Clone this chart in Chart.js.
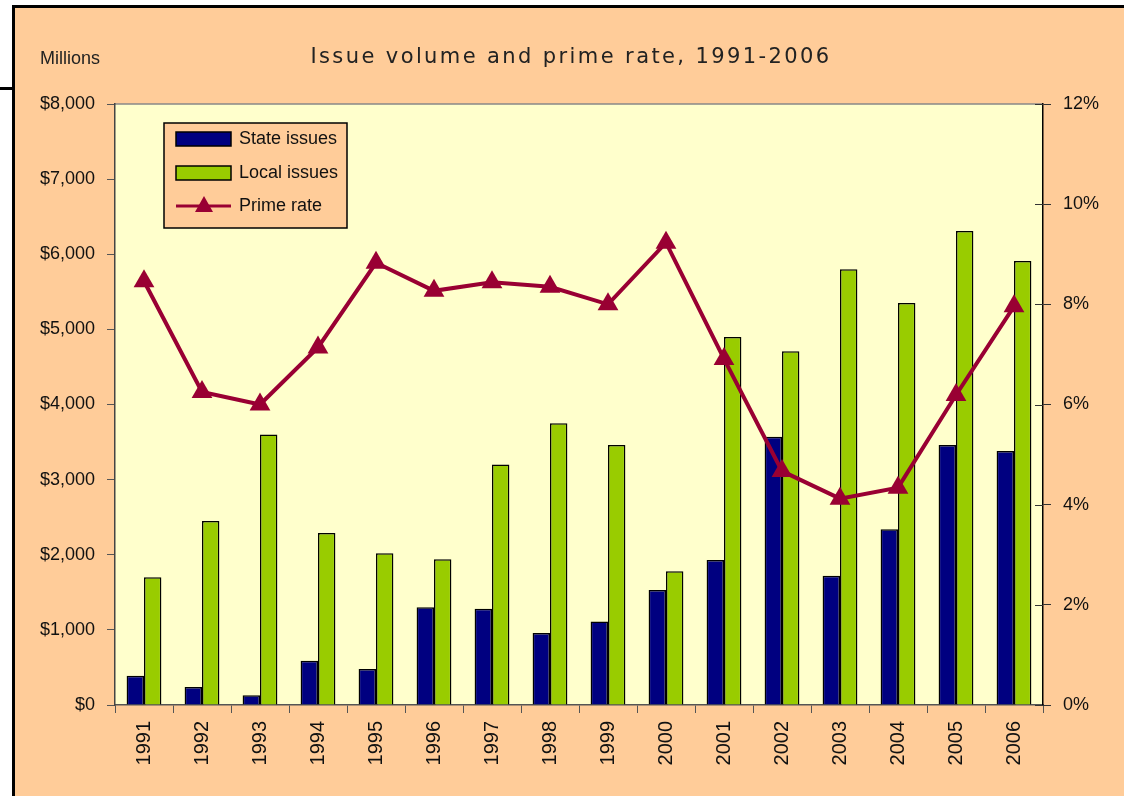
<!DOCTYPE html>
<html>
<head>
<meta charset="utf-8">
<script src="https://cdn.jsdelivr.net/npm/chart.js@4"></script>
<style>
  body { margin: 0; background: #fff; }
  canvas { display: block; }
</style>
</head>
<body>
<canvas id="issues" width="1124" height="796"></canvas>
<script>
// Issue volume and prime rate

const years = ['1991', '1992', '1993', '1994', '1995', '1996', '1997', '1998',
    '1999', '2000', '2001', '2002', '2003', '2004', '2005', '2006'];
const stateIssues = [390, 240, 130, 590, 480, 1300, 1280, 960,
    1110, 1530, 1930, 3570, 1720, 2340, 3460, 3380];
const localIssues = [1700, 2450, 3600, 2290, 2020, 1940, 3200, 3750,
    3460, 1780, 4900, 4710, 5800, 5350, 6310, 5910];
const primeRate = [8.46, 6.25, 6.00, 7.14, 8.83, 8.27, 8.44, 8.35,
    8.00, 9.23, 6.91, 4.67, 4.12, 4.34, 6.19, 7.96];

const narrow = "'Liberation Sans Narrow', 'Liberation Sans', Arial, sans-serif";

// background, frame, plot area and the title texts
const frame = {
    id: 'frame',
    beforeDraw(chart) {
        const ctx = chart.ctx;
        const a = chart.chartArea;
        ctx.save();
        ctx.fillStyle = '#fff';
        ctx.fillRect(0, 0, chart.width, chart.height);
        ctx.fillStyle = '#FFCC99';
        ctx.fillRect(13, 6, chart.width, chart.height);
        ctx.fillStyle = '#000';
        ctx.fillRect(12, 5, chart.width, 3);
        ctx.fillRect(12, 5, 3, chart.height);
        ctx.fillRect(0, 87, 13, 3);
        ctx.fillStyle = '#FFFFCC';
        ctx.fillRect(a.left, a.top, a.right - a.left, a.bottom - a.top);
        ctx.strokeStyle = '#888';
        ctx.lineWidth = 1.5;
        ctx.beginPath();
        ctx.moveTo(a.left, a.top);
        ctx.lineTo(a.right, a.top);
        ctx.stroke();

        ctx.fillStyle = '#222';
        ctx.textBaseline = 'middle';
        ctx.font = '18px ' + narrow;
        ctx.textAlign = 'left';
        ctx.fillText('Millions', 40, 59);
        ctx.font = "21px 'DejaVu Sans', Verdana, sans-serif";
        ctx.letterSpacing = '2.4px';
        ctx.textAlign = 'center';
        ctx.fillText('Issue volume and prime rate, 1991-2006', 571, 58);
        ctx.letterSpacing = '0px';
        ctx.restore();
    },
    afterDraw(chart) {
        // right axis tick marks cross the axis line
        const ctx = chart.ctx;
        const a = chart.chartArea;
        const s = chart.scales.y1;
        ctx.save();
        ctx.strokeStyle = '#333';
        ctx.lineWidth = 1;
        s.ticks.forEach(t => {
            const y = Math.round(s.getPixelForValue(t.value)) + 0.5;
            ctx.beginPath();
            ctx.moveTo(a.right - 8, y);
            ctx.lineTo(a.right, y);
            ctx.stroke();
        });
        ctx.restore();
    }
};

// legend box inside the plot
const boxLegend = {
    id: 'boxLegend',
    afterDraw(chart) {
        const ctx = chart.ctx;
        const sets = chart.data.datasets;
        ctx.save();
        ctx.fillStyle = '#FFCC99';
        ctx.fillRect(164, 123, 183, 105);
        ctx.strokeStyle = '#000';
        ctx.lineWidth = 1.5;
        ctx.strokeRect(164, 123, 183, 105);
        const rows = [139, 173, 206];
        sets.forEach((ds, i) => {
            const y = rows[i];
            if (ds.type === 'line') {
                ctx.strokeStyle = ds.borderColor;
                ctx.lineWidth = 3;
                ctx.beginPath();
                ctx.moveTo(176, y);
                ctx.lineTo(231, y);
                ctx.stroke();
                ctx.fillStyle = ds.backgroundColor;
                ctx.beginPath();
                ctx.moveTo(204, y - 10);
                ctx.lineTo(213, y + 6);
                ctx.lineTo(195, y + 6);
                ctx.closePath();
                ctx.fill();
            } else {
                ctx.fillStyle = ds.backgroundColor;
                ctx.fillRect(176, y - 7, 55, 14);
                ctx.strokeStyle = '#000';
                ctx.lineWidth = 1.5;
                ctx.strokeRect(176, y - 7, 55, 14);
            }
            ctx.fillStyle = '#111';
            ctx.font = '18px ' + narrow;
            ctx.textAlign = 'left';
            ctx.textBaseline = 'middle';
            ctx.fillText(ds.label, 239, y);
        });
        ctx.restore();
    }
};

const data = {
    labels: years,
    datasets: [
        {
            label: 'State issues',
            data: stateIssues,
            backgroundColor: '#000080',
            borderColor: '#000',
            borderWidth: 1.5,
            yAxisID: 'y',
            order: 2
        },
        {
            label: 'Local issues',
            data: localIssues,
            backgroundColor: '#99CC00',
            borderColor: '#000',
            borderWidth: 1.5,
            yAxisID: 'y',
            order: 2
        },
        {
            type: 'line',
            label: 'Prime rate',
            data: primeRate,
            borderColor: '#990033',
            backgroundColor: '#990033',
            borderWidth: 4,
            pointStyle: 'triangle',
            pointRadius: 12,
            pointBorderWidth: 0,
            tension: 0,
            yAxisID: 'y1',
            order: 1
        },
    ]
};

const config = {
    type: 'bar',
    data: data,
    options: {
        responsive: false,
        animation: false,
        categoryPercentage: 0.6,
        barPercentage: 1,
        layout: { padding: { top: 104, left: 0, right: 0, bottom: 0 } },
        plugins: {
            legend: { display: false },
            tooltip: { enabled: false },
            title: { display: false }
        },
        scales: {
            x: {
                afterFit: s => { s.height = 91; },
                border: { color: '#555', width: 1.5 },
                grid: { drawOnChartArea: false, color: '#555', tickLength: 8, offset: true },
                ticks: {
                    minRotation: 90, maxRotation: 90, padding: 8,
                    color: '#111', font: { family: narrow, size: 20 }
                }
            },
            y: {
                position: 'left',
                min: 0, max: 8000,
                afterFit: s => { s.width = 115; },
                border: { color: '#444', width: 1.5 },
                grid: { drawOnChartArea: false, color: '#555', tickLength: 8 },
                ticks: {
                    stepSize: 1000, padding: 12, color: '#111',
                    font: { family: narrow, size: 18 },
                    callback: v => '$' + v.toLocaleString('en-US')
                }
            },
            y1: {
                position: 'right',
                min: 0, max: 12,
                afterFit: s => { s.width = 81; },
                border: { color: '#000', width: 1.5 },
                grid: { drawOnChartArea: false, color: '#333', tickLength: 8 },
                ticks: {
                    stepSize: 2, padding: 12, color: '#111',
                    font: { family: narrow, size: 18 },
                    callback: v => v + '%'
                }
            }
        }
    },
    plugins: [frame, boxLegend]
};

const issuesChart = new Chart(
    document.getElementById('issues'),
    config
);
</script>
</body>
</html>
